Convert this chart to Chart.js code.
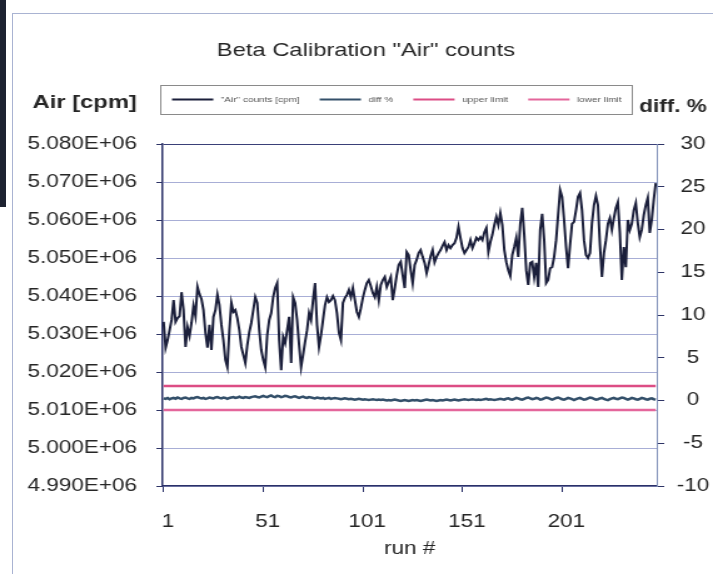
<!DOCTYPE html>
<html>
<head>
<meta charset="utf-8">
<script src="https://cdn.jsdelivr.net/npm/chart.js@4.4.1/dist/chart.umd.min.js"></script>
<style>
  html, body { margin: 0; padding: 0; background: #ffffff; }
  body { width: 713px; height: 574px; overflow: hidden; position: relative; }
  #strip { position: absolute; left: 0; top: 0; width: 6px; height: 207px; background: #1d2231; }
  #frame { position: absolute; left: 12px; top: 13px; width: 720px; height: 600px;
           border-left: 1px solid #a9b3d2; border-top: 1px solid #a9b3d2; }
  #wrap { position: absolute; left: 0; top: 0; width: 570px; height: 574px;
          transform: scaleX(1.25088); transform-origin: 0 0; }
  canvas { display: block; }
</style>
</head>
<body>
<div id="strip"></div>
<div id="frame"></div>
<div id="wrap"><canvas id="c" width="570" height="574"></canvas></div>
<script>
// ---------------- data ----------------
const chartTitle = 'Beta Calibration "Air" counts';
const leftAxisTitle = 'Air [cpm]';
const rightAxisTitle = 'diff. %';
const xAxisTitle = 'run #';
const seriesNames = ['"Air" counts [cpm]', 'diff %', 'upper limit', 'lower limit'];
const tickRuns = [1, 51, 101, 151, 201];

const airCounts = [
  5033200, 5026400, 5028400, 5031000, 5033700, 5038900, 5033200, 5034200, 5034700, 5041000,
  5036300, 5026600, 5031800, 5029500, 5032900, 5037400, 5034700, 5042400, 5040500, 5039200,
  5036300, 5030300, 5026400, 5032400, 5025800, 5034500, 5036300, 5040300, 5037600, 5032400,
  5028400, 5023200, 5021300, 5031000, 5038200, 5035800, 5036300, 5034200, 5031000, 5026600,
  5024500, 5022400, 5027100, 5030500, 5032900, 5036300, 5039700, 5038200, 5031000, 5025800,
  5023200, 5021300, 5029700, 5033700, 5035500, 5039700, 5042100, 5043400, 5028400, 5020500,
  5029200, 5027600, 5031000, 5034500, 5022400, 5039700, 5038200, 5033700, 5027100, 5021300,
  5024500, 5027900, 5031000, 5035500, 5033700, 5038900, 5043400, 5032400, 5026600, 5029700,
  5033700, 5037600, 5039700, 5038400, 5038900, 5040000, 5038900, 5035500, 5030300, 5028400,
  5038200, 5039500, 5040300, 5041600, 5039700, 5042100, 5038900, 5035800, 5034500, 5036800,
  5039500, 5041600, 5043400, 5044200, 5042600, 5040800, 5039700, 5042400, 5038900, 5042900,
  5044200, 5045000, 5042400, 5043700, 5045000, 5038900, 5042100, 5045500, 5048200, 5049000,
  5045500, 5042100, 5051600, 5050800, 5046800, 5043400, 5048200, 5049500, 5051300, 5052100,
  5050300, 5048700, 5046000, 5048200, 5050500, 5052100, 5048900, 5050300, 5051300, 5052100,
  5053200, 5054200, 5052100, 5053400, 5052600, 5053400, 5053900, 5055300, 5058200, 5055300,
  5052600, 5051300, 5052100, 5052900, 5054700, 5052600, 5053900, 5055300, 5054700, 5055500,
  5054700, 5056800, 5057900, 5051600, 5054200, 5056100, 5058700, 5060800, 5058700, 5061800,
  5058700, 5052100, 5048900, 5046800, 5045300, 5050800, 5052900, 5055300, 5050300, 5059000,
  5063200, 5056100, 5046800, 5042900, 5048700, 5049000, 5045000, 5048700, 5042400, 5057400,
  5061600, 5054700, 5043400, 5044200, 5047300, 5047600, 5050300, 5054700, 5061300, 5067900,
  5066100, 5060000, 5052900, 5047300, 5053400, 5059000, 5059500, 5062600, 5066100, 5067100,
  5062600, 5054700, 5050800, 5050000, 5051300, 5059200, 5063900, 5066300, 5063900, 5053400,
  5045000, 5051300, 5054700, 5059000, 5060500, 5057400, 5060500, 5063200, 5064700, 5056600,
  5044200, 5052900, 5047600, 5060000, 5057400, 5059000, 5062600, 5064500, 5059200, 5055500,
  5057400, 5061300, 5063900, 5065800, 5056600, 5060000, 5065300, 5069700
];

const diffPct = [
  0.25, 0.2, 0.3, 0.15, 0.25, 0.3, 0.2, 0.35, 0.25, 0.2,
  0.3, 0.35, 0.25, 0.2, 0.3, 0.25, 0.35, 0.4, 0.3, 0.25,
  0.3, 0.2, 0.25, 0.35, 0.3, 0.25, 0.35, 0.4, 0.3, 0.25,
  0.35, 0.3, 0.2, 0.3, 0.35, 0.4, 0.3, 0.35, 0.45, 0.35,
  0.3, 0.4, 0.35, 0.3, 0.4, 0.45, 0.5, 0.4, 0.35, 0.45,
  0.55, 0.45, 0.4, 0.5, 0.6, 0.45, 0.4, 0.55, 0.5, 0.4,
  0.45, 0.55, 0.5, 0.4, 0.35, 0.45, 0.5, 0.4, 0.3, 0.4,
  0.45, 0.35, 0.3, 0.4, 0.35, 0.3, 0.25, 0.35, 0.3, 0.25,
  0.3, 0.2, 0.25, 0.3, 0.2, 0.25, 0.3, 0.25, 0.2, 0.15,
  0.2, 0.25, 0.2, 0.15, 0.2, 0.15, 0.1, 0.15, 0.2, 0.15,
  0.1, 0.15, 0.1, 0.05, 0.1, 0.15, 0.1, 0.05, 0.1, 0.05,
  0.1, 0.05, 0.0, 0.05, 0.0, 0.05, 0.1, 0.05, 0.0, -0.05,
  0.0, 0.05, 0.0, -0.05, 0.0, 0.05, 0.0, 0.05, 0.0, -0.05,
  0.0, 0.05, 0.1, 0.05, 0.0, 0.05, 0.0, -0.05, 0.0, 0.05,
  0.0, 0.05, 0.1, 0.05, 0.0, 0.05, 0.1, 0.05, 0.0, 0.05,
  0.1, 0.15, 0.1, 0.05, 0.1, 0.15, 0.1, 0.05, 0.1, 0.05,
  0.1, 0.15, 0.2, 0.1, 0.15, 0.1, 0.05, 0.1, 0.15, 0.2,
  0.15, 0.1, 0.2, 0.25, 0.15, 0.1, 0.2, 0.3, 0.25, 0.15,
  0.1, 0.2, 0.3, 0.35, 0.25, 0.15, 0.2, 0.3, 0.25, 0.1,
  0.15, 0.25, 0.35, 0.3, 0.2, 0.1, 0.2, 0.3, 0.35, 0.25,
  0.15, 0.1, 0.2, 0.3, 0.25, 0.15, 0.05, 0.15, 0.25, 0.3,
  0.2, 0.1, 0.15, 0.25, 0.35, 0.3, 0.2, 0.1, 0.15, 0.25,
  0.3, 0.2, 0.1, 0.05, 0.15, 0.25, 0.3, 0.2, 0.15, 0.25,
  0.35, 0.3, 0.2, 0.1, 0.2, 0.3, 0.25, 0.15, 0.1, 0.2,
  0.3, 0.25, 0.15, 0.1, 0.2, 0.25, 0.15, 0.1
];

const upperLimit = 1.7;
const lowerLimit = -1.1;

// run numbers (categories) 1..N
const runs = airCounts.map((_, i) => i + 1);

// ---------------- chart ----------------
const FONT = '"Liberation Sans", Arial, Helvetica, sans-serif';
const TXT = '#262626';
const NAVY = '#2a3068';

const extras = {
  id: 'extras',
  afterDraw(chart) {
    const { ctx, chartArea: a } = chart;
    ctx.save();
    // legend box
    const bx = a.left - 2, by = a.top - 59, bw = (a.right - 20) - bx, bh = 29;
    ctx.strokeStyle = '#8a8a8a';
    ctx.lineWidth = 1;
    ctx.strokeRect(Math.round(bx) + 0.5, Math.round(by) + 0.5, Math.round(bw), bh);
    ctx.font = '8px ' + FONT;
    ctx.textBaseline = 'middle';
    ctx.textAlign = 'left';
    let x = bx + 9.5;
    const cy = by + bh / 2;
    chart.data.datasets.forEach(ds => {
      ctx.strokeStyle = ds.borderColor;
      ctx.lineWidth = 2;
      ctx.beginPath();
      ctx.moveTo(x, cy);
      ctx.lineTo(x + 33, cy);
      ctx.stroke();
      x += 39;
      ctx.fillStyle = '#555555';
      ctx.fillText(ds.label, x, cy);
      x += ctx.measureText(ds.label).width + 16;
    });
    // axis titles
    ctx.fillStyle = TXT;
    ctx.font = 'bold 19px ' + FONT;
    ctx.fillText(leftAxisTitle, 26, 103);
    ctx.font = 'bold 18px ' + FONT;
    ctx.fillText(rightAxisTitle, 511, 107);
    ctx.restore();
  }
};

const toXY = (vals) => runs.map((r, i) => ({ x: r, y: vals[i] }));

new Chart(document.getElementById('c'), {
  type: 'line',
  data: {
    datasets: [
      { label: seriesNames[0], data: toXY(airCounts), yAxisID: 'y',
        borderColor: '#1b1f3b', borderWidth: 2 },
      { label: seriesNames[1], data: toXY(diffPct), yAxisID: 'y2',
        borderColor: '#34506a', borderWidth: 2.5 },
      { label: seriesNames[2], data: runs.map(r => ({ x: r, y: upperLimit })), yAxisID: 'y2',
        borderColor: '#dc4d85', borderWidth: 2.5 },
      { label: seriesNames[3], data: runs.map(r => ({ x: r, y: lowerLimit })), yAxisID: 'y2',
        borderColor: '#e4669b', borderWidth: 2.5 }
    ]
  },
  options: {
    responsive: false,
    animation: false,
    events: [],
    devicePixelRatio: 1,
    layout: { padding: { left: 15, right: 0, top: 0, bottom: 0 } },
    elements: { point: { radius: 0 }, line: { tension: 0 } },
    plugins: {
      legend: { display: false },
      tooltip: { enabled: false },
      title: {
        display: true, text: chartTitle, color: TXT,
        font: { family: FONT, size: 19, weight: 'normal' },
        padding: { top: 39.6, bottom: 81.6 }
      }
    },
    scales: {
      x: {
        type: 'linear', min: 0.5, max: 248.5,
        afterBuildTicks: s => { s.ticks = tickRuns.map(v => ({ value: v })); },
        afterFit: s => { s.height = 88; },
        ticks: { autoSkip: false, maxRotation: 0, padding: 19, labelOffset: 3.5, color: TXT,
                 font: { family: FONT, size: 18 } },
        grid: { drawOnChartArea: false, drawTicks: true, tickLength: 6, tickColor: NAVY },
        border: { color: NAVY, width: 1.5 },
        title: { display: true, text: xAxisTitle, color: TXT,
                 font: { family: FONT, size: 18 }, padding: { top: 0, bottom: 14 } }
      },
      y: {
        type: 'linear', position: 'left', min: 4990000, max: 5080000,
        afterFit: s => { s.width = 115; },
        ticks: { stepSize: 10000, padding: 15.5, color: TXT,
                 font: { family: FONT, size: 18 },
                 callback: v => (v / 1e6).toFixed(3) + 'E+06' },
        grid: {
          color: c => (c.tick && c.tick.value >= 5079999) ? '#3a4078' : '#a8aed6',
          lineWidth: 1, tickLength: 5, tickColor: '#2e3466'
        },
        border: { color: NAVY, width: 1.5 }
      },
      y2: {
        type: 'linear', position: 'right', min: -10, max: 30,
        afterFit: s => { s.width = 45; },
        ticks: { stepSize: 5, crossAlign: 'center', padding: 10, color: TXT,
                 font: { family: FONT, size: 18 } },
        grid: { drawOnChartArea: false, tickLength: 6, tickColor: '#2e3466' },
        border: { color: '#8090b8', width: 1 }
      }
    }
  },
  plugins: [extras]
});
</script>
</body>
</html>
